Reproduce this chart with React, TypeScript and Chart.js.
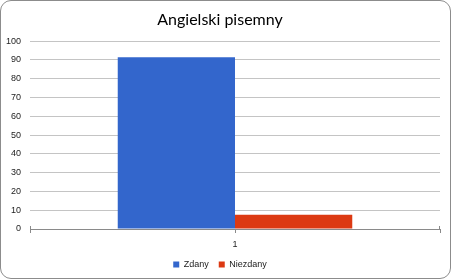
import React, { useEffect, useRef } from "react";
import { Chart, registerables } from "chart.js";

Chart.register(...registerables);

const categories = ["1"];
const seriesNames = ["Zdany", "Niezdany"];
const zdanyValues = [91.5];
const niezdanyValues = [7.6];
const seriesColors = ["#3366CC", "#DC3912"];
const titleText = "Angielski pisemny";

const centerTickPlugin = {
  id: "centerTick",
  afterDraw(chart: any) {
    const x = chart.scales.x;
    const ctx = chart.ctx;
    ctx.save();
    ctx.strokeStyle = "#8a8a8a";
    ctx.lineWidth = 1;
    for (let i = 0; i < categories.length; i++) {
      const px = Math.round(x.getPixelForValue(i)) + 0.5;
      ctx.beginPath();
      ctx.moveTo(px, x.top);
      ctx.lineTo(px, x.top + 4);
      ctx.stroke();
    }
    ctx.beginPath();
    ctx.moveTo(Math.round(x.left) + 0.5, x.top - 3);
    ctx.lineTo(Math.round(x.left) + 0.5, x.top);
    ctx.moveTo(Math.round(x.right) - 0.5, x.top - 3);
    ctx.lineTo(Math.round(x.right) - 0.5, x.top);
    ctx.stroke();
    ctx.restore();
  },
};

export default function App() {
  const ref = useRef<HTMLCanvasElement | null>(null);
  useEffect(() => {
    document.body.style.margin = "0";
    const canvas = ref.current;
    if (!canvas) return;
    const chart = new Chart(canvas, {
      type: "bar",
      data: {
        labels: categories,
        datasets: [
          {
            label: seriesNames[0],
            data: zdanyValues,
            backgroundColor: seriesColors[0],
            borderWidth: 0,
            categoryPercentage: 0.572,
            barPercentage: 1,
          },
          {
            label: seriesNames[1],
            data: niezdanyValues,
            backgroundColor: seriesColors[1],
            borderWidth: 0,
            categoryPercentage: 0.572,
            barPercentage: 1,
          },
        ],
      },
      options: {
        responsive: false,
        animation: false,
        devicePixelRatio: 1,
        layout: { padding: { left: 0, right: 11, top: 0, bottom: 0 } },
        plugins: {
          title: {
            display: true,
            text: titleText,
            color: "#000",
            font: { family: "Lato", size: 16, weight: "normal" },
            padding: { top: 10, bottom: 12 },
          },
          legend: {
            display: true,
            position: "bottom",
            labels: {
              boxWidth: 6,
              boxHeight: 6,
              padding: 10,
              color: "#222",
              font: { family: "Liberation Sans", size: 9 },
            },
          },
          tooltip: { enabled: false },
        },
        scales: {
          x: {
            grid: {
              display: true,
              offset: true,
              drawOnChartArea: false,
              drawTicks: true,
              tickLength: 4,
              color: "#8a8a8a",
            },
            border: { display: true, color: "#8a8a8a", width: 1 },
            ticks: {
              color: "#222",
              padding: 6,
              font: { family: "Liberation Sans", size: 9 },
            },
            afterFit(scale: any) {
              scale.height = 21;
            },
          },
          y: {
            min: 0,
            max: 100,
            ticks: {
              stepSize: 10,
              color: "#222",
              padding: 9,
              font: { family: "Liberation Sans", size: 9 },
            },
            grid: { color: "#c4c4c4", drawTicks: false },
            border: { display: false },
            afterFit(scale: any) {
              scale.width = 30;
            },
          },
        },
      },
      plugins: [centerTickPlugin],
    });
    return () => chart.destroy();
  }, []);

  return (
    <div style={{ position: "relative", width: 451, height: 279, background: "#fff" }}>
      <canvas ref={ref} width={451} height={279} style={{ position: "absolute", left: 0, top: 0 }} />
      <div
        style={{
          position: "absolute",
          left: 0,
          top: 0,
          width: 451,
          height: 279,
          boxSizing: "border-box",
          border: "1.5px solid #8c8c8c",
          borderRadius: 11,
          pointerEvents: "none",
        }}
      />
    </div>
  );
}
